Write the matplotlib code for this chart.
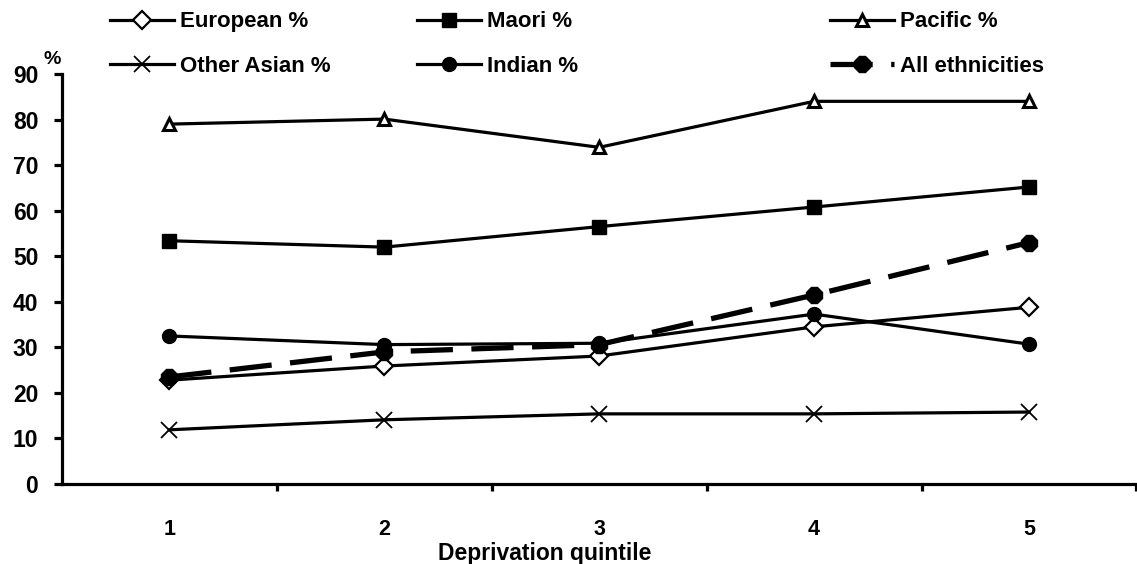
import matplotlib
matplotlib.use('Agg')
import matplotlib.pyplot as plt
from matplotlib.ticker import FixedLocator, NullFormatter

plt.rcParams['font.family'] = ['Liberation Sans', 'DejaVu Sans']
plt.rcParams['font.weight'] = 'bold'

# valores
quintis = [1, 2, 3, 4, 5]
europeu = [22.8, 25.9, 28.1, 34.5, 38.8]
maori = [53.4, 52.0, 56.5, 60.8, 65.2]
pacifico = [79.0, 80.1, 73.9, 84.0, 84.0]
outros_asiaticos = [11.9, 14.1, 15.4, 15.4, 15.8]
indiano = [32.5, 30.6, 30.9, 37.3, 30.7]
todas = [23.5, 29.0, 30.6, 41.5, 53.0]

fig = plt.figure(figsize=(11.37, 5.64), dpi=100)
ax = fig.add_axes([0.0545, 0.1418, 0.9450, 0.7270])

lw = 2.3
l_eur, = ax.plot(quintis, europeu, color='black', lw=lw, marker='D', ms=9,
                 mfc='white', mec='black', mew=1.6, label='European %')
l_mao, = ax.plot(quintis, maori, color='black', lw=lw, marker='s', ms=10,
                 mfc='black', mec='black', label='Maori %')
l_pac, = ax.plot(quintis, pacifico, color='black', lw=lw, marker='^', ms=9,
                 mfc='white', mec='black', mew=2.2, label='Pacific %')
l_oas, = ax.plot(quintis, outros_asiaticos, color='black', lw=lw, marker='x', ms=11,
                 mec='black', mew=1.3, label='Other Asian %')
l_ind, = ax.plot(quintis, indiano, color='black', lw=lw, marker='o', ms=10,
                 mfc='black', mec='black', label='Indian %')
l_all, = ax.plot(quintis, todas, color='black', lw=3.8, dashes=(8, 3.5), marker='8',
                 ms=12, mfc='black', mec='black', label='All ethnicities')

ax.set_xlim(0.5, 5.5)
ax.set_ylim(0, 90)
ax.set_yticks(range(0, 91, 10))
ax.set_xticks(quintis)
ax.xaxis.set_minor_locator(FixedLocator([1.5, 2.5, 3.5, 4.5, 5.5]))
ax.xaxis.set_minor_formatter(NullFormatter())

for s in ['top', 'right']:
    ax.spines[s].set_visible(False)
for s in ['left', 'bottom']:
    ax.spines[s].set_linewidth(2.3)

ax.tick_params(axis='y', direction='out', length=6, width=2.3, labelsize=16.5, pad=11)
ax.tick_params(axis='x', which='major', length=0, labelsize=15.5, pad=25)
ax.tick_params(axis='x', which='minor', direction='out', length=5, width=2.3)
for t in ax.get_xticklabels() + ax.get_yticklabels():
    t.set_fontweight('bold')

fig.text(545 / 1137, 1 - 560 / 564, 'Deprivation quintile', ha='center', va='baseline',
         fontsize=16.5, fontweight='bold')
fig.text(52 / 1137, 1 - 59 / 564, '%', ha='center', va='center', fontsize=14,
         fontweight='bold')

# tres legendas separadas, uma por coluna
colunas = [([l_eur, l_oas], 110), ([l_mao, l_ind], 417), ([l_pac, l_all], 830)]
for handles, x0 in colunas:
    leg = fig.legend(handles=handles, loc='center left',
                     bbox_to_anchor=(x0 / 1137, 1 - 44 / 564), frameon=False,
                     fontsize=16, handlelength=2.9, handletextpad=0.25,
                     labelspacing=1.05, borderpad=0, borderaxespad=0, numpoints=1)
    for t in leg.get_texts():
        t.set_fontweight('bold')

fig.savefig('out.png', dpi=100)
